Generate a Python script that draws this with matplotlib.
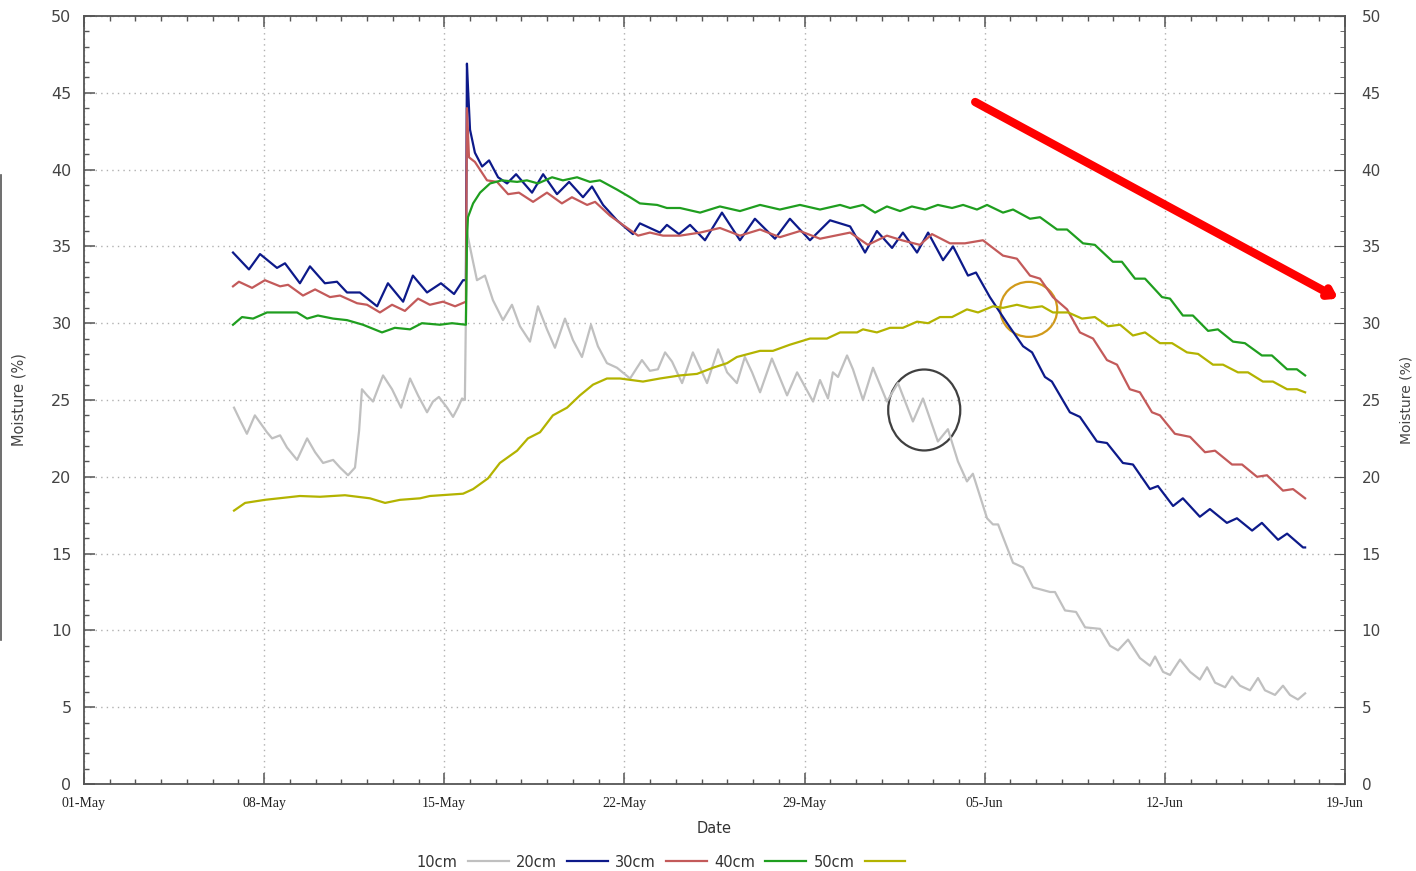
import numpy as np
import pandas as pd
import matplotlib
matplotlib.use("Agg")
import matplotlib.pyplot as plt
import matplotlib.dates as mdates
from matplotlib.patches import Ellipse
from matplotlib.lines import Line2D

# Datos: días desde el 01-May y humedad (%)
start_date = pd.Timestamp("2014-05-01")

t_10cm = [5.83, 6.06, 6.33, 6.64, 7.11, 7.31, 7.62, 7.89, 8.28, 8.67, 8.98, 9.29, 9.68, 9.95,
          10.26, 10.53, 10.69, 10.80, 11.00, 11.23, 11.62, 11.97, 12.32, 12.67, 12.98, 13.33,
          13.56, 13.79, 14.11, 14.34, 14.53, 14.69, 14.80, 14.88, 14.92, 15.08, 15.27, 15.58,
          15.89, 16.28, 16.63, 16.94, 17.33, 17.64, 17.99, 18.30, 18.69, 19.00, 19.35, 19.70,
          19.97, 20.32, 20.71, 21.22, 21.68, 21.99, 22.30, 22.58, 22.85, 23.24, 23.66, 24.21,
          24.64, 24.99, 25.37, 25.68, 25.96, 26.27, 26.73, 27.32, 27.71, 28.33, 28.60, 28.91,
          29.10, 29.30, 29.65, 29.88, 30.27, 30.66, 31.20, 31.63, 32.21, 32.60, 33.18, 33.57,
          33.96, 34.31, 34.54, 35.09, 35.32, 35.52, 36.10, 36.49, 36.88, 37.54, 37.73, 38.12,
          38.55, 38.90, 39.48, 39.87, 40.18, 40.57, 41.03, 41.42, 41.62, 41.93, 42.20, 42.59,
          42.98, 43.36, 43.64, 43.95, 44.34, 44.61, 44.92, 45.31, 45.62, 45.89, 46.28, 46.59,
          46.86, 47.17, 47.45]
v_10cm = [24.5, 23.7, 22.8, 24.0, 22.9, 22.5, 22.7, 21.9, 21.1, 22.5, 21.6, 20.9, 21.1, 20.6,
          20.1, 20.6, 23.0, 25.7, 25.3, 24.9, 26.6, 25.7, 24.5, 26.4, 25.3, 24.2,
          24.9, 25.2, 24.5, 23.9, 24.5, 25.1, 25.0, 36.0, 35.6, 34.3, 32.8, 33.1,
          31.5, 30.2, 31.2, 29.8, 28.8, 31.1, 29.6, 28.4, 30.3, 28.9, 27.8, 29.9,
          28.5, 27.4, 27.1, 26.4, 27.6, 26.9, 27.0, 28.1, 27.5, 26.1, 28.1, 26.1,
          28.3, 26.8, 26.1, 27.8, 26.8, 25.5, 27.7, 25.3, 26.8, 24.9, 26.3, 25.1,
          26.8, 26.5, 27.9, 27.0, 25.0, 27.1, 24.9, 26.1, 23.6, 25.1, 22.3, 23.1,
          21.0, 19.7, 20.2, 17.3, 16.9, 16.9, 14.4, 14.1, 12.8, 12.5, 12.5, 11.3,
          11.2, 10.2, 10.1, 9.0, 8.7, 9.4, 8.2, 7.7, 8.3, 7.3, 7.1, 8.1,
          7.3, 6.8, 7.6, 6.6, 6.3, 7.0, 6.4, 6.1, 6.9, 6.1, 5.8, 6.4,
          5.8, 5.5, 5.9]

t_20cm = [5.79, 6.41, 6.84, 7.50, 7.81, 8.39, 8.78, 9.36, 9.83, 10.22, 10.72, 11.39, 11.81,
          12.40, 12.78, 13.33, 13.87, 14.38, 14.73, 14.84, 14.88, 14.92, 15.00, 15.19, 15.47,
          15.74, 16.09, 16.44, 16.79, 17.41, 17.84, 18.38, 18.85, 19.39, 19.74, 20.17, 20.71,
          21.33, 21.60, 22.38, 22.65, 23.12, 23.55, 24.13, 24.79, 25.49, 26.07, 26.85, 27.43,
          28.21, 28.99, 29.77, 30.35, 30.81, 31.40, 31.82, 32.37, 32.80, 33.38, 33.77, 34.35,
          34.66, 35.20, 35.87, 36.49, 36.84, 37.34, 37.61, 38.31, 38.70, 39.36, 39.75, 40.37,
          40.76, 41.42, 41.73, 42.32, 42.70, 43.36, 43.75, 44.41, 44.80, 45.39, 45.77, 46.40,
          46.75, 47.37, 47.45]
v_20cm = [34.6, 33.5, 34.5, 33.6, 33.9, 32.6, 33.7, 32.6, 32.7, 32.0, 32.0, 31.1, 32.6,
          31.4, 33.1, 32.0, 32.6, 31.9, 32.8, 32.8, 46.9, 45.4, 42.6, 41.1, 40.2,
          40.6, 39.5, 39.1, 39.7, 38.5, 39.7, 38.4, 39.2, 38.2, 38.9, 37.7, 36.7,
          35.8, 36.5, 35.9, 36.4, 35.8, 36.4, 35.4, 37.2, 35.4, 36.8, 35.5, 36.8,
          35.4, 36.7, 36.3, 34.6, 36.0, 34.9, 35.9, 34.6, 35.9, 34.1, 35.0, 33.1,
          33.3, 31.7, 30.0, 28.5, 28.1, 26.5, 26.2, 24.2, 23.9, 22.3, 22.2, 20.9,
          20.8, 19.2, 19.4, 18.1, 18.6, 17.4, 17.9, 17.0, 17.3, 16.5, 17.0, 15.9,
          16.3, 15.4, 15.4]

t_30cm = [5.79, 6.02, 6.53, 7.03, 7.62, 7.93, 8.51, 8.98, 9.56, 9.95, 10.61, 11.00, 11.50,
          11.97, 12.47, 12.98, 13.44, 13.95, 14.42, 14.84, 14.88, 14.96, 15.19, 15.66, 16.05,
          16.48, 16.90, 17.45, 17.99, 18.57, 18.96, 19.55, 19.86, 20.44, 20.94, 21.53, 21.99,
          22.50, 23.16, 23.94, 24.71, 25.49, 26.27, 27.04, 27.82, 28.60, 29.77, 30.46, 31.20,
          31.78, 32.48, 32.95, 33.65, 34.23, 34.93, 35.71, 36.25, 36.76, 37.15, 37.65, 38.20,
          38.70, 39.21, 39.75, 40.14, 40.64, 41.03, 41.50, 41.81, 42.39, 42.98, 43.56, 43.95,
          44.61, 45.00, 45.58, 45.97, 46.59, 46.98, 47.45]
v_30cm = [32.4, 32.7, 32.3, 32.8, 32.4, 32.5, 31.8, 32.2, 31.7, 31.8, 31.3, 31.2, 30.7,
          31.2, 30.8, 31.6, 31.2, 31.4, 31.1, 31.4, 44.0, 40.8, 40.5, 39.3, 39.2,
          38.4, 38.5, 37.9, 38.5, 37.8, 38.2, 37.7, 37.9, 37.0, 36.4, 35.7, 35.9,
          35.7, 35.7, 35.9, 36.2, 35.7, 36.1, 35.6, 36.0, 35.5, 35.9, 35.1, 35.7,
          35.4, 35.1, 35.8, 35.2, 35.2, 35.4, 34.4, 34.2, 33.1, 32.9, 31.7, 30.9,
          29.4, 29.0, 27.6, 27.3, 25.7, 25.5, 24.2, 24.0, 22.8, 22.6, 21.6, 21.7,
          20.8, 20.8, 20.0, 20.1, 19.1, 19.2, 18.6]

t_40cm = [5.79, 6.14, 6.57, 7.11, 7.89, 8.28, 8.67, 9.09, 9.68, 10.22, 10.84, 11.58, 12.08,
          12.67, 13.13, 13.83, 14.30, 14.84, 14.88, 14.92, 15.12, 15.39, 15.78, 16.24, 16.83,
          17.21, 17.64, 18.19, 18.61, 19.16, 19.66, 20.05, 20.71, 21.22, 21.60, 22.27, 22.65,
          23.16, 23.94, 24.71, 25.49, 26.27, 27.04, 27.82, 28.60, 29.38, 29.77, 30.27, 30.74,
          31.20, 31.71, 32.17, 32.68, 33.18, 33.73, 34.16, 34.70, 35.09, 35.71, 36.10, 36.76,
          37.15, 37.81, 38.20, 38.82, 39.28, 39.98, 40.33, 40.84, 41.23, 41.89, 42.20, 42.70,
          43.09, 43.68, 44.06, 44.65, 45.11, 45.77, 46.16, 46.75, 47.13, 47.45]
v_40cm = [29.9, 30.4, 30.3, 30.7, 30.7, 30.7, 30.3, 30.5, 30.3, 30.2, 29.9, 29.4, 29.7,
          29.6, 30.0, 29.9, 30.0, 29.9, 35.4, 36.9, 37.8, 38.5, 39.1, 39.3, 39.2,
          39.3, 39.1, 39.5, 39.3, 39.5, 39.2, 39.3, 38.7, 38.2, 37.8, 37.7, 37.5,
          37.5, 37.2, 37.6, 37.3, 37.7, 37.4, 37.7, 37.4, 37.7, 37.5, 37.7, 37.2,
          37.6, 37.3, 37.6, 37.4, 37.7, 37.5, 37.7, 37.4, 37.7, 37.2, 37.4, 36.8,
          36.9, 36.1, 36.1, 35.2, 35.1, 34.0, 34.0, 32.9, 32.9, 31.7, 31.6, 30.5,
          30.5, 29.5, 29.6, 28.8, 28.7, 27.9, 27.9, 27.0, 27.0, 26.6]

t_50cm = [5.83, 6.26, 7.03, 8.39, 9.17, 10.14, 11.11, 11.70, 12.28, 13.06, 13.44, 14.73, 15.12,
          15.70, 16.16, 16.83, 17.25, 17.72, 18.22, 18.77, 19.27, 19.78, 20.32, 20.83, 21.72,
          22.38, 23.16, 23.82, 24.44, 24.99, 25.37, 26.27, 26.77, 27.43, 28.21, 28.87, 29.38,
          30.04, 30.27, 30.81, 31.32, 31.82, 32.37, 32.80, 33.26, 33.73, 34.31, 34.74, 35.32,
          35.71, 36.25, 36.76, 37.23, 37.65, 38.24, 38.78, 39.28, 39.79, 40.26, 40.76, 41.23,
          41.81, 42.28, 42.86, 43.29, 43.87, 44.26, 44.84, 45.23, 45.81, 46.20, 46.75, 47.13,
          47.45]
v_50cm = [17.8, 18.3, 18.5, 18.75, 18.7, 18.8, 18.6, 18.3, 18.5, 18.6, 18.75, 18.9, 19.2,
          19.9, 20.9, 21.7, 22.5, 22.9, 24.0, 24.5, 25.3, 26.0, 26.4, 26.4, 26.2,
          26.4, 26.6, 26.7, 27.1, 27.4, 27.8, 28.2, 28.2, 28.6, 29.0, 29.0, 29.4,
          29.4, 29.6, 29.4, 29.7, 29.7, 30.1, 30.0, 30.4, 30.4, 30.9, 30.7, 31.1,
          31.0, 31.2, 31.0, 31.1, 30.7, 30.7, 30.3, 30.4, 29.8, 29.9, 29.2, 29.4,
          28.7, 28.7, 28.1, 28.0, 27.3, 27.3, 26.8, 26.8, 26.2, 26.2, 25.7, 25.7,
          25.5]

series_labels = ["10cm", "20cm", "30cm", "40cm", "50cm"]
series_colors = ["#c0c0c0", "#0d1a8a", "#c35a5a", "#1f9e1f", "#b3b300"]
series_t = [t_10cm, t_20cm, t_30cm, t_40cm, t_50cm]
series_v = [v_10cm, v_20cm, v_30cm, v_40cm, v_50cm]

xtick_labels = ["01-May", "08-May", "15-May", "22-May", "29-May", "05-Jun", "12-Jun", "19-Jun"]

def to_dates(days):
    return start_date + pd.to_timedelta(np.asarray(days), unit="D")

fig = plt.figure(figsize=(14.16, 8.71), dpi=100)
ax = fig.add_axes([84 / 1416, 87 / 871, 1261 / 1416, 768 / 871])

handles = []
for t, v, c, lab in zip(series_t, series_v, series_colors, series_labels):
    h, = ax.plot(to_dates(t), v, color=c, linewidth=1.6, label=lab)
    handles.append(h)

# Ejes
xticks = pd.date_range(start_date, periods=len(xtick_labels), freq="7D")
ax.set_xlim(xticks[0], xticks[-1])
ax.set_ylim(0, 50)
ax.set_xticks(xticks)
ax.set_xticklabels(xtick_labels, family="Liberation Serif", fontsize=10, color="#222222")
ax.xaxis.set_minor_locator(mdates.DayLocator())
ax.set_yticks(np.arange(0, 51, 5))
ax.set_yticks(np.arange(0, 51, 1), minor=True)
ax.tick_params(axis="both", which="both", direction="in", colors="#555555",
               top=True, right=True)
ax.tick_params(axis="both", which="major", length=8, width=1.1)
ax.tick_params(axis="both", which="minor", length=3.5, width=1.0)
ax.tick_params(axis="x", which="major", pad=9, labelcolor="#222222")
ax.tick_params(axis="y", which="major", labelsize=11.5, labelcolor="#444444", pad=9)
for s in ax.spines.values():
    s.set_color("#555555")
    s.set_linewidth(1.3)
ax.grid(True, which="major", color="#b0b0b0", linestyle=(0, (1, 3)), linewidth=1.0)
ax.set_xlabel("Date", fontsize=10.5, color="#333333", labelpad=8)
ax.set_ylabel("Moisture (%)", fontsize=10.5, color="#444444", labelpad=18)

ax2 = ax.twinx()
ax2.set_ylim(0, 50)
ax2.set_yticks(np.arange(0, 51, 5))
ax2.set_yticks(np.arange(0, 51, 1), minor=True)
ax2.tick_params(axis="y", which="both", direction="in", colors="#555555")
ax2.tick_params(axis="y", which="major", length=8, labelsize=11, labelcolor="#444444", pad=12)
ax2.tick_params(axis="y", which="minor", length=3.5)
ax2.set_ylabel("Moisture (%)", fontsize=10, color="#444444", labelpad=13)
for s in ax2.spines.values():
    s.set_visible(False)

# Anotaciones (flecha y círculos)
arrow_start = (34.63, 44.4)
arrow_end = (48.74, 31.6)
ax.annotate("", xy=(to_dates([arrow_end[0]])[0], arrow_end[1]),
            xytext=(to_dates([arrow_start[0]])[0], arrow_start[1]),
            arrowprops=dict(arrowstyle="-|>,head_length=0.45,head_width=0.3",
                            color="#ff0000", lw=6, shrinkA=0, shrinkB=0))

base_num = mdates.date2num(start_date)
ax.add_patch(Ellipse((base_num + 32.65, 24.35), 2.8, 5.27, fill=False,
                     edgecolor="#404040", linewidth=1.6))
ax.add_patch(Ellipse((base_num + 36.71, 30.9), 2.215, 3.58, fill=False,
                     edgecolor="#d19a1a", linewidth=1.6))

# Leyenda
fig.legend(handles, series_labels, ncol=5, markerfirst=False, frameon=False,
           loc="center", bbox_to_anchor=(661 / 1416, 9 / 871), fontsize=10.5,
           handlelength=2.8, handletextpad=0.7, columnspacing=0.5,
           labelcolor="#333333")

# Trazo del borde izquierdo
fig.add_artist(Line2D([0.6 / 1416, 0.6 / 1416], [1 - 175 / 871, 1 - 640 / 871],
                      color="#555555", linewidth=1.2, transform=fig.transFigure))

fig.savefig("out.png", dpi=100)
